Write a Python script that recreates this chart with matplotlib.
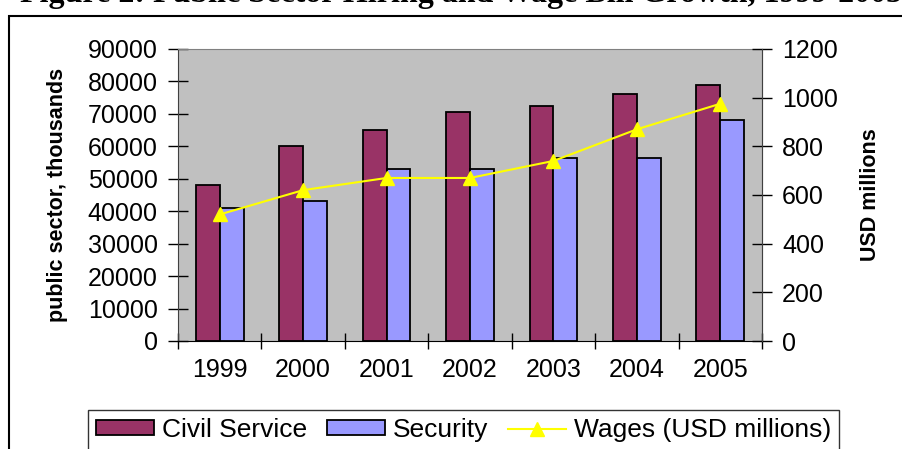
import matplotlib.pyplot as plt
import matplotlib.patches as mpatches
import numpy as np

years = ['1999', '2000', '2001', '2002', '2003', '2004', '2005']
civil_service = [48000, 60000, 65000, 70500, 72500, 76000, 79000]
security = [41000, 43000, 53000, 53000, 56500, 56500, 68000]
wages = [520, 620, 670, 670, 740, 870, 975]

plt.rcParams['font.family'] = ['Liberation Sans', 'DejaVu Sans']

W, H = 902, 449
fig = plt.figure(figsize=(W / 100, H / 100), dpi=100)

# outer chart frame
fig.patches.append(mpatches.Rectangle((9 / W, -0.05), 1.0, 1 - 16 / H + 0.05,
                                      transform=fig.transFigure, fill=False,
                                      edgecolor='black', linewidth=1.5))

# title, mostly cut off at the top as in the source
fig.text(20 / W, 1 - 2 / H, 'Figure 2: Public Sector Hiring and Wage Bill Growth, 1999-2005',
         ha='left', va='baseline', fontsize=23, fontweight='bold',
         family='Liberation Serif')

ax = fig.add_axes([178 / W, 1 - 341 / H, (762 - 178) / W, (341 - 49) / H])
ax.set_facecolor('#C0C0C0')

x = np.arange(len(years))
w = 0.286
ax.bar(x - w / 2, civil_service, w, color='#993366', edgecolor='black', linewidth=1.3,
       label='Civil Service', zorder=2)
ax.bar(x + w / 2, security, w, color='#9999FF', edgecolor='black', linewidth=1.3,
       label='Security', zorder=2)

ax.set_xlim(-0.5, len(years) - 0.5)
ax.set_ylim(0, 90000)
ax.set_yticks(np.arange(0, 90001, 10000))
ax.set_xticks(x)
ax.set_xticklabels(years)
ax.set_xticks(np.arange(-0.5, len(years), 1), minor=True)
ax.tick_params(axis='x', which='major', length=0, pad=12, labelsize=18)
ax.tick_params(axis='x', which='minor', direction='inout', length=12, width=1)
ax.tick_params(axis='y', direction='inout', length=15, width=1, labelsize=18, pad=7)
ax.set_ylabel('public sector, thousands', fontsize=15.5, fontweight='bold', labelpad=14)

for s in ['top', 'right']:
    ax.spines[s].set_color('#808080')
ax.spines['left'].set_color('#404040')
ax.spines['bottom'].set_color('black')

ax2 = ax.twinx()
ax2.plot(x, wages, color='#FFFF00', marker='^', markersize=10, linewidth=1.5,
         label='Wages (USD millions)', zorder=3)
ax2.set_ylim(0, 1200)
ax2.set_yticks(np.arange(0, 1201, 200))
ax2.tick_params(axis='y', direction='inout', length=15, width=1, labelsize=18, pad=7)
ax2.set_ylabel('USD millions', fontsize=15.5, fontweight='bold', rotation=90, labelpad=16)
ax2.spines['right'].set_color('#404040')
for s in ['top', 'left', 'bottom']:
    ax2.spines[s].set_visible(False)

h1, l1 = ax.get_legend_handles_labels()
h2, l2 = ax2.get_legend_handles_labels()
fig.legend(h1 + h2, l1 + l2, loc='upper left', bbox_to_anchor=(88 / W, 1 - 410 / H),
           ncol=3, fontsize=19, frameon=True, fancybox=False, edgecolor='black',
           handlelength=2.2, handleheight=0.45, columnspacing=0.75, handletextpad=0.3,
           borderpad=0.3, borderaxespad=0)

fig.savefig('out.png', dpi=100)
